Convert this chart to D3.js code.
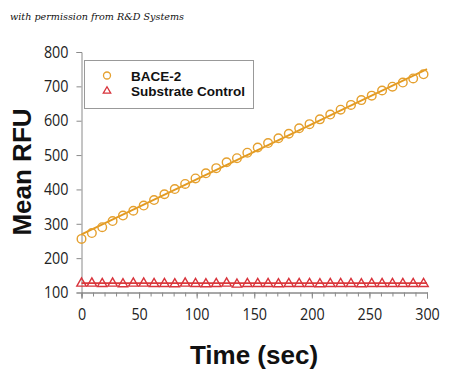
<!DOCTYPE html>
<html><head><meta charset="utf-8">
<script src="https://cdn.jsdelivr.net/npm/d3@7"></script>
<style>body{margin:0;background:#fff;} svg{display:block;}</style>
</head><body>
<script>
const times = [0,9,18,27,36,45,54,63,72,81,90,99,108,117,126,135,144,153,162,171,180,189,198,207,216,225,234,243,252,261,270,279,288,297];
const bace2 = [256,273,290,308,324,338,353,369,386,401,416,432,447,462,479,491,507,522,535,549,562,578,590,604,618,632,646,660,673,688,699,711,723,735];
const substrate = [128,128,127,128,126,128,128,127,127,126,128,127,126,127,128,125,127,127,127,126,127,127,127,126,127,127,127,126,127,127,127,127,127,127];
const baceFit = [[0,269],[300,750]];
const substrateFit = [[0,127],[300,127]];
const xTicks = [0,50,100,150,200,250,300];
const yTicks = [100,200,300,400,500,600,700,800];
const seriesNames = ["BACE-2","Substrate Control"];

const W=450,H=376;
const svg=d3.select("body").append("svg").attr("width",W).attr("height",H);
const x=d3.scaleLinear().domain([0,300]).range([81.5,427]);
const y=d3.scaleLinear().domain([100,800]).range([292.5,52]);
const axisCol="#8a8a8a";
const tickFont="'Open Sans',sans-serif";
function condense(sel){
  sel.attr("font-family",tickFont).attr("font-size",16.5).attr("fill","#222")
    .attr("textLength",function(){return this.textContent.length*8.2;})
    .attr("lengthAdjust","spacingAndGlyphs");
}

svg.append("text").attr("x",10).attr("y",20).attr("font-family","'DejaVu Serif',serif")
  .attr("font-style","italic").attr("font-size",10).attr("fill","#111")
  .attr("textLength",174).attr("lengthAdjust","spacingAndGlyphs").text("with permission from R&D Systems");

// Y axis
const ya=svg.append("g").attr("transform",`translate(${x(0)},0)`)
  .call(d3.axisLeft(y).tickValues(yTicks).tickSize(5).tickPadding(8));
ya.select(".domain").attr("stroke",axisCol);
ya.selectAll(".tick line").attr("stroke",axisCol);
condense(ya.selectAll("text"));

// X axis minor
const xm=svg.append("g").attr("transform",`translate(0,${y(100)})`)
  .call(d3.axisBottom(x).tickValues(d3.range(0,301,10)).tickSize(4).tickFormat(""));
xm.select(".domain").attr("stroke",axisCol);
xm.selectAll(".tick line").attr("stroke",axisCol);
const xa=svg.append("g").attr("transform",`translate(0,${y(100)})`)
  .call(d3.axisBottom(x).tickValues(xTicks).tickSize(6).tickPadding(10));
xa.select(".domain").attr("stroke",axisCol);
xa.selectAll(".tick line").attr("stroke",axisCol);
condense(xa.selectAll("text"));

// axis titles
svg.append("text").attr("x",254).attr("y",364).attr("text-anchor","middle")
  .attr("font-family","Liberation Sans,Arial,sans-serif").attr("font-weight","bold").attr("font-size",26).attr("fill","#111").text("Time (sec)");
svg.append("text").attr("transform","translate(31,172) rotate(-90)").attr("text-anchor","middle")
  .attr("font-family","Liberation Sans,Arial,sans-serif").attr("font-weight","bold").attr("font-size",26).attr("fill","#111").text("Mean RFU");

const orange="#E5A02E", orangeLine="#E39A20", red="#D8343C", redLine="#DB3A3A";
const line=d3.line().x(d=>x(d[0])).y(d=>y(d[1]));
svg.append("path").attr("d",line(baceFit)).attr("stroke",orangeLine).attr("stroke-width",1.8).attr("fill","none");
svg.append("path").attr("d",line(substrateFit)).attr("stroke",redLine).attr("stroke-width",1.8).attr("fill","none");

svg.append("g").selectAll("circle").data(times).join("circle")
  .attr("cx",t=>x(t)).attr("cy",(t,i)=>y(bace2[i])).attr("r",4.3)
  .attr("fill","none").attr("stroke",orange).attr("stroke-width",1.4);
const tri=d3.symbol().type(d3.symbolTriangle).size(38);
svg.append("g").selectAll("path").data(times).join("path")
  .attr("d",tri).attr("transform",(t,i)=>`translate(${x(t)},${y(substrate[i])+0.5})`)
  .attr("fill","none").attr("stroke",red).attr("stroke-width",1.4);

// legend
const lg=svg.append("g");
lg.append("rect").attr("x",84.5).attr("y",60.5).attr("width",169).attr("height",48)
  .attr("fill","#fff").attr("stroke","#999").attr("stroke-width",1);
lg.append("circle").attr("cx",107).attr("cy",75.5).attr("r",3.5).attr("fill","none").attr("stroke",orange).attr("stroke-width",1.3);
lg.append("path").attr("d",d3.symbol().type(d3.symbolTriangle).size(24)).attr("transform","translate(107,91)")
  .attr("fill","none").attr("stroke",red).attr("stroke-width",1.3);
lg.selectAll("text.l").data(seriesNames).join("text").attr("class","l")
  .attr("x",131).attr("y",(d,i)=>80.5+i*15).attr("font-family","Liberation Sans,Arial,sans-serif")
  .attr("font-weight","bold").attr("font-size",13.5).attr("fill","#111").text(d=>d);
</script>
</body></html>
